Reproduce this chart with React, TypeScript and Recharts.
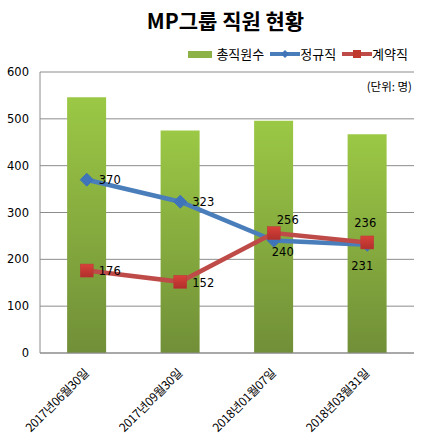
import React from 'react';
import { ComposedChart, Bar, Line, XAxis, YAxis, CartesianGrid, LabelList } from 'recharts';

const categories = ['2017년06월30일', '2017년09월30일', '2018년01월07일', '2018년03월31일'];
const totalStaff = [546, 475, 496, 467];
const regularStaff = [370, 323, 240, 231];
const contractStaff = [176, 152, 256, 236];
const yTicks = [0, 100, 200, 300, 400, 500, 600];

const data = categories.map((c, i) => ({
  name: c,
  total: totalStaff[i],
  regular: regularStaff[i],
  contract: contractStaff[i],
}));

const numFont = 'DejaVu Sans, Verdana, sans-serif';
const krFont = '"Noto Sans CJK KR", "Noto Sans", sans-serif';

const Diamond = (props: any) => {
  const { cx, cy } = props;
  if (cx == null || cy == null) return null;
  const r = 6.5;
  return (
    <path
      d={`M${cx},${cy - r} L${cx + r},${cy} L${cx},${cy + r} L${cx - r},${cy} Z`}
      fill="#3F74B8"
      stroke="#3F74B8"
    />
  );
};

const Square = (props: any) => {
  const { cx, cy } = props;
  if (cx == null || cy == null) return null;
  const r = 6.5;
  return <rect x={cx - r} y={cy - r} width={2 * r} height={2 * r} fill="url(#sqGrad)" stroke="#B83B38" strokeWidth={0.5} />;
};

const regOffsets = [
  { dx: 12, dy: 0, anchor: 'start' },
  { dx: 12, dy: 0, anchor: 'start' },
  { dx: 9, dy: 11, anchor: 'middle' },
  { dx: -5, dy: 21, anchor: 'middle' },
];
const conOffsets = [
  { dx: 12, dy: 0, anchor: 'start' },
  { dx: 12, dy: 1, anchor: 'start' },
  { dx: 14, dy: -13, anchor: 'middle' },
  { dx: -2, dy: -19, anchor: 'middle' },
];

const makeLabel = (offsets: any[]) => (props: any) => {
  const { x, y, value, index } = props;
  const o = offsets[index];
  return (
    <text
      x={x + o.dx}
      y={y + o.dy}
      textAnchor={o.anchor}
      dominantBaseline="central"
      fontFamily={numFont}
      fontSize={11.5}
      fill="#000"
    >
      {value}
    </text>
  );
};

const XTick = (props: any) => {
  const { x, y, payload } = props;
  return (
    <g transform={`translate(${x - 1},${y + 9})`}>
      <text
        transform="rotate(-45)"
        textAnchor="end"
        dominantBaseline="central"
        fontFamily={krFont}
        fontSize={12}
        letterSpacing={-0.3}
        fill="#000"
      >
        {payload.value}
      </text>
    </g>
  );
};

export default function App() {
  return (
    <div style={{ position: 'absolute', left: 0, top: 0, width: 424, height: 443, background: '#fff' }}>
      <div
        style={{
          position: 'absolute',
          left: 0,
          width: 451,
          top: 6,
          textAlign: 'center',
          fontFamily: krFont,
          fontWeight: 700,
          fontSize: 21,
          lineHeight: '28px',
          color: '#000',
        }}
      >
        MP그룹 직원 현황
      </div>
      <div
        style={{
          position: 'absolute',
          right: 16,
          top: 45,
          display: 'flex',
          alignItems: 'center',
          fontFamily: krFont,
          fontSize: 13,
          lineHeight: '18px',
          color: '#000',
        }}
      >
        <span style={{ display: 'inline-block', width: 24, height: 7, background: '#8DB348', marginRight: 4 }} />
        <span style={{ marginRight: 6 }}>총직원수</span>
        <svg width={30} height={12}>
          <line x1={0} y1={6} x2={30} y2={6} stroke="#4A7EBB" strokeWidth={4} />
          <path d="M15,2 L19,6 L15,10 L11,6 Z" fill="#3F74B8" />
        </svg>
        <span style={{ marginRight: 6 }}>정규직</span>
        <svg width={30} height={12}>
          <line x1={0} y1={6} x2={30} y2={6} stroke="#BE4B48" strokeWidth={4} />
          <rect x={11} y={2} width={8} height={8} fill="#C0392F" />
        </svg>
        <span>계약직</span>
      </div>
      <div
        style={{
          position: 'absolute',
          right: 12,
          top: 78,
          fontFamily: krFont,
          fontSize: 11.5,
          lineHeight: '16px',
          color: '#000',
        }}
      >
        (단위: 명)
      </div>
      <ComposedChart
        width={424}
        height={443}
        data={data}
        margin={{ top: 72, right: 10, bottom: 0, left: 0 }}
        barCategoryGap="29%"
      >
        <defs>
          <linearGradient id="barGrad" x1="0" y1="0" x2="0" y2="1">
            <stop offset="0%" stopColor="#9BC845" />
            <stop offset="100%" stopColor="#718F38" />
          </linearGradient>
          <linearGradient id="sqGrad" x1="0" y1="0" x2="0" y2="1">
            <stop offset="0%" stopColor="#D9413A" />
            <stop offset="100%" stopColor="#B0302C" />
          </linearGradient>
        </defs>
        <CartesianGrid vertical={false} stroke="#8C8C8C" strokeWidth={1} />
        <XAxis
          dataKey="name"
          height={90}
          tickLine={false}
          axisLine={{ stroke: '#8C8C8C' }}
          tick={<XTick />}
          interval={0}
        />
        <YAxis
          width={40}
          domain={[0, 600]}
          ticks={yTicks}
          tickLine={false}
          axisLine={{ stroke: '#8C8C8C' }}
          tick={{ fontFamily: numFont, fontSize: 11.5, fill: '#000' }}
          tickMargin={5}
        />
        <Bar dataKey="total" fill="url(#barGrad)" isAnimationActive={false} />
        <Line
          dataKey="regular"
          stroke="#4A7EBB"
          strokeWidth={4.5}
          dot={<Diamond />}
          activeDot={false}
          isAnimationActive={false}
        >
          <LabelList dataKey="regular" content={makeLabel(regOffsets)} />
        </Line>
        <Line
          dataKey="contract"
          stroke="#BE4B48"
          strokeWidth={4.5}
          dot={<Square />}
          activeDot={false}
          isAnimationActive={false}
        >
          <LabelList dataKey="contract" content={makeLabel(conOffsets)} />
        </Line>
      </ComposedChart>
    </div>
  );
}
